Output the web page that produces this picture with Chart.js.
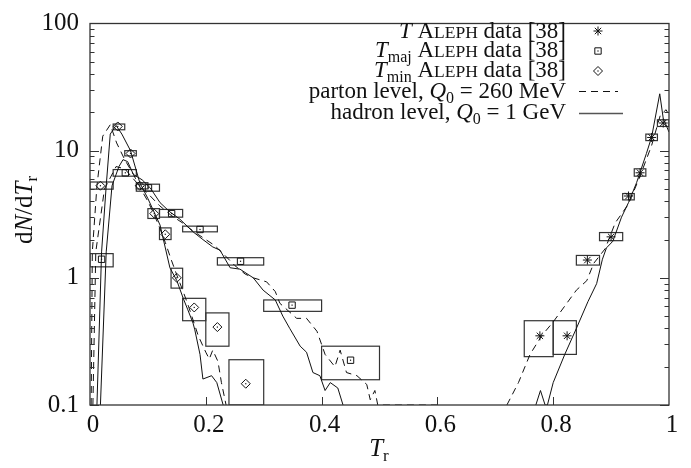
<!DOCTYPE html>
<html>
<head>
<meta charset="utf-8">
<script src="https://cdn.jsdelivr.net/npm/chart.js@4.4.1/dist/chart.umd.min.js"></script>
<style>
  html, body { margin: 0; padding: 0; background: #fff; }
  canvas { display: block; }
</style>
</head>
<body>
<canvas id="chart" width="691" height="468"></canvas>
<script>
// ---- ALEPH data: bin centre, value, error box edges ----
// T (thrust)
const tX   = [0.777, 0.824, 0.859, 0.900, 0.930, 0.950, 0.970, 0.990];
const tY   = [0.35, 0.35, 1.38, 2.1, 4.4, 6.7, 12.7, 16.5];
const tXlo = [0.75, 0.80, 0.84, 0.88, 0.92, 0.94, 0.96, 0.98];
const tXhi = [0.80, 0.84, 0.88, 0.92, 0.94, 0.96, 0.98, 1.00];
const tYlo = [0.24, 0.25, 1.26, 1.96, 4.1, 6.3, 12.0, 15.5];
const tYhi = [0.46, 0.46, 1.50, 2.27, 4.6, 7.2, 13.5, 17.5];

// T_maj
const mjX   = [0.020, 0.061, 0.101, 0.141, 0.190, 0.260, 0.349, 0.450];
const mjY   = [1.4, 6.7, 5.1, 3.2, 2.4, 1.35, 0.61, 0.225];
const mjXlo = [0.00, 0.04, 0.08, 0.12, 0.16, 0.22, 0.30, 0.40];
const mjXhi = [0.04, 0.08, 0.12, 0.16, 0.22, 0.30, 0.40, 0.50];
const mjYlo = [1.22, 6.3, 4.8, 3.0, 2.3, 1.26, 0.545, 0.158];
const mjYhi = [1.55, 7.1, 5.45, 3.45, 2.55, 1.44, 0.67, 0.29];

// T_min
const mnX   = [0.018, 0.048, 0.070, 0.086, 0.111, 0.130, 0.150, 0.180, 0.220, 0.269];
const mnY   = [5.3, 15.5, 9.5, 5.3, 3.2, 2.2, 1.0, 0.585, 0.41, 0.147];
const mnXlo = [0.00, 0.04, 0.06, 0.08, 0.10, 0.12, 0.14, 0.16, 0.20, 0.24];
const mnXhi = [0.04, 0.06, 0.08, 0.10, 0.12, 0.14, 0.16, 0.20, 0.24, 0.30];
const mnYlo = [4.98, 14.6, 9.1, 5.0, 2.93, 2.0, 0.83, 0.46, 0.29, 0.1];
const mnYhi = [5.67, 16.2, 10.0, 5.6, 3.5, 2.47, 1.19, 0.69, 0.53, 0.227];

// ---- model curves (values under 0.1 sit on the axis) ----
const hadMinX = [0.012, 0.02, 0.028, 0.035, 0.045, 0.055, 0.07, 0.086, 0.1, 0.121, 0.138, 0.15, 0.161, 0.169, 0.178, 0.181, 0.19, 0.195, 0.21, 0.219, 0.23];
const hadMinY = [0.1, 1.6, 5.3, 13.5, 15.8, 13.5, 10, 5.6, 4.2, 2.6, 1.2, 0.95, 0.69, 0.56, 0.44, 0.39, 0.25, 0.16, 0.17, 0.15, 0.1];
const parMinX = [0.002, 0.004, 0.012, 0.022, 0.035, 0.046, 0.06, 0.075, 0.09, 0.1, 0.11, 0.12, 0.13, 0.14, 0.15, 0.16, 0.17, 0.187, 0.2, 0.206, 0.212, 0.221, 0.227, 0.235];
const parMinY = [0.1, 1.6, 5.3, 13, 16, 11.5, 8.5, 6.5, 4.8, 4.0, 3.2, 2.5, 1.9, 1.4, 1.05, 0.8, 0.6, 0.35, 0.26, 0.23, 0.27, 0.22, 0.15, 0.1];

const hadMajX = [0.018, 0.028, 0.038, 0.05, 0.057, 0.065, 0.075, 0.09, 0.104, 0.121, 0.138, 0.155, 0.178, 0.195, 0.212, 0.2245, 0.242, 0.259, 0.282, 0.299, 0.32, 0.333, 0.345, 0.363, 0.374, 0.385, 0.397, 0.406, 0.415, 0.428, 0.437];
const hadMajY = [0.1, 1.6, 5.3, 7.5, 8.5, 8.2, 6.5, 5.9, 5.1, 3.9, 3.3, 2.9, 2.3, 2.0, 1.75, 1.65, 1.2, 1.17, 1.0, 0.8, 0.67, 0.5, 0.4, 0.29, 0.26, 0.18, 0.17, 0.13, 0.15, 0.136, 0.1];
const parMajX = [0.005, 0.01, 0.025, 0.045, 0.06, 0.075, 0.09, 0.1, 0.12, 0.14, 0.16, 0.18, 0.2, 0.215, 0.23, 0.25, 0.268, 0.282, 0.305, 0.32, 0.328, 0.357, 0.374, 0.392, 0.406, 0.423, 0.432, 0.443, 0.461, 0.478, 0.484, 0.492, 0.497, 0.6];
const parMajY = [0.1, 1.6, 5.0, 7.5, 7.2, 6.0, 5.0, 4.6, 3.7, 3.1, 2.7, 2.3, 2.0, 1.8, 1.55, 1.25, 1.07, 1.0, 0.93, 0.78, 0.63, 0.48, 0.48, 0.38, 0.25, 0.2, 0.27, 0.18, 0.17, 0.145, 0.11, 0.13, 0.1, 0.1];

const hadTX = [0.77, 0.778, 0.786, 0.79, 0.80, 0.82, 0.84, 0.86, 0.875, 0.885, 0.892, 0.903, 0.918, 0.93, 0.944, 0.961, 0.97, 0.984, 0.99, 1.0];
const hadTY = [0.1, 0.13, 0.1, 0.1, 0.15, 0.25, 0.4, 0.65, 0.9, 1.4, 1.72, 1.94, 3.0, 3.9, 5.6, 9.5, 12.8, 28, 18, 14];
const parTX = [0.72, 0.74, 0.76, 0.78, 0.80, 0.82, 0.84, 0.858, 0.87, 0.89, 0.907, 0.93, 0.95, 0.97, 0.985, 0.995, 1.0];
const parTY = [0.1, 0.15, 0.25, 0.35, 0.45, 0.6, 0.8, 0.95, 1.3, 1.7, 2.7, 3.8, 6.3, 11, 19, 21, 19];

const xTicks = [0, 0.2, 0.4, 0.6, 0.8, 1];
const yTickLabels = [0.1, 1, 10, 100];

const serif = '"Liberation Serif", "Times New Roman", serif';
const ink = '#111';

function pts(xs, ys) {
  return xs.map((x, i) => ({ x: x, y: ys[i] }));
}

function lineSet(xs, ys, dashed) {
  return {
    data: pts(xs, ys), showLine: true, pointRadius: 0, tension: 0,
    borderColor: ink, borderWidth: 1, borderDash: dashed ? [7, 5] : []
  };
}

// draw text made of runs (font changes, subscripts) right-aligned
function drawRuns(ctx, runs, right, base) {
  let w = 0;
  runs.forEach(r => { ctx.font = r.f; w += ctx.measureText(r.t).width; });
  let x = right - w;
  runs.forEach(r => {
    ctx.font = r.f;
    ctx.fillText(r.t, x, base + (r.dy || 0));
    x += ctx.measureText(r.t).width;
  });
  return w;
}

function marker(ctx, style, x, y) {
  const r = 4.5;
  ctx.beginPath();
  if (style === 'star') {
    for (let a = 0; a < 4; a++) {
      const t = a * Math.PI / 4;
      ctx.moveTo(x - r * Math.cos(t), y - r * Math.sin(t));
      ctx.lineTo(x + r * Math.cos(t), y + r * Math.sin(t));
    }
  } else if (style === 'rect') {
    const s = r * Math.SQRT1_2;
    ctx.rect(x - s, y - s, 2 * s, 2 * s);
  } else {
    ctx.moveTo(x, y - r); ctx.lineTo(x + r, y); ctx.lineTo(x, y + r); ctx.lineTo(x - r, y); ctx.closePath();
  }
  ctx.stroke();
  if (style !== 'star') ctx.fillRect(x - 0.6, y - 0.6, 1.2, 1.2);
}

const decor = {
  id: 'decor',
  beforeDatasetsDraw(chart) {
    const { ctx, chartArea: a, scales: { x, y } } = chart;
    ctx.save();
    ctx.beginPath();
    ctx.rect(a.left, a.top, a.right - a.left, a.bottom - a.top);
    ctx.clip();
    ctx.strokeStyle = '#333';
    ctx.lineWidth = 1.2;
    const groups = [
      [tXlo, tXhi, tYlo, tYhi],
      [mjXlo, mjXhi, mjYlo, mjYhi],
      [mnXlo, mnXhi, mnYlo, mnYhi]
    ];
    groups.forEach(g => {
      g[0].forEach((lo, i) => {
        const x0 = x.getPixelForValue(lo), x1 = x.getPixelForValue(g[1][i]);
        const y0 = y.getPixelForValue(g[3][i]), y1 = y.getPixelForValue(g[2][i]);
        ctx.strokeRect(x0, y0, x1 - x0, y1 - y0);
      });
    });
    ctx.restore();
  },
  afterDatasetsDraw(chart) {
    const { ctx, chartArea: a, scales: { x, y } } = chart;
    ctx.save();
    ctx.strokeStyle = ink;
    ctx.fillStyle = ink;
    ctx.lineWidth = 1;
    // centre dots of square and diamond markers
    [[mjX, mjY], [mnX, mnY]].forEach(s => s[0].forEach((v, i) => {
      ctx.fillRect(x.getPixelForValue(v) - 0.6, y.getPixelForValue(s[1][i]) - 0.6, 1.2, 1.2);
    }));

    // frame
    ctx.strokeStyle = '#333';
    ctx.lineWidth = 1.3;
    ctx.strokeRect(a.left, a.top, a.right - a.left, a.bottom - a.top);

    // inward ticks
    ctx.lineWidth = 1;
    ctx.beginPath();
    [0.1, 1, 10].forEach(d => {
      for (let k = 1; k <= 9; k++) {
        const py = Math.round(y.getPixelForValue(k * d)) + 0.5;
        const len = k === 1 ? 9 : 4.5;
        ctx.moveTo(a.left, py); ctx.lineTo(a.left + len, py);
        ctx.moveTo(a.right, py); ctx.lineTo(a.right - len, py);
      }
    });
    xTicks.slice(1, -1).forEach(v => {
      const px = Math.round(x.getPixelForValue(v)) + 0.5;
      ctx.moveTo(px, a.bottom); ctx.lineTo(px, a.bottom - 8);
    });
    ctx.stroke();

    // legend
    const R = '23px ' + serif, I = 'italic 23px ' + serif;
    const SC = '17.5px ' + serif, SUB = '16px ' + serif;
    const aleph = [{ t: ' A', f: R }, { t: 'LEPH', f: SC }, { t: ' data [38]', f: R }];
    ctx.fillStyle = ink;
    ctx.textBaseline = 'alphabetic';
    drawRuns(ctx, [{ t: 'T', f: I }].concat(aleph), 566, 38);
    drawRuns(ctx, [{ t: 'T', f: I }, { t: 'maj', f: SUB, dy: 5 }].concat(aleph), 566, 57);
    drawRuns(ctx, [{ t: 'T', f: I }, { t: 'min', f: SUB, dy: 5 }].concat(aleph), 566, 77);
    drawRuns(ctx, [{ t: 'parton level, ', f: R }, { t: 'Q', f: I }, { t: '0', f: SUB, dy: 5 }, { t: ' = 260 MeV', f: R }], 566, 98);
    drawRuns(ctx, [{ t: 'hadron level, ', f: R }, { t: 'Q', f: I }, { t: '0', f: SUB, dy: 5 }, { t: ' = 1 GeV', f: R }], 566, 119);
    ctx.strokeStyle = ink;
    marker(ctx, 'star', 598, 31);
    marker(ctx, 'rect', 598, 51);
    marker(ctx, 'diamond', 598, 71);
    ctx.lineWidth = 1;
    ctx.beginPath();
    ctx.setLineDash([7, 5]);
    ctx.moveTo(579, 91.5); ctx.lineTo(618, 91.5);
    ctx.stroke();
    ctx.setLineDash([]);
    ctx.strokeStyle = '#555';
    ctx.lineWidth = 1.3;
    ctx.beginPath();
    ctx.moveTo(579, 113.5); ctx.lineTo(623, 113.5);
    ctx.stroke();

    // axis titles
    ctx.fillStyle = ink;
    const T = 'italic 25px ' + serif, Rm = '25px ' + serif, sub = '17px ' + serif;
    ctx.save();
    ctx.translate(32, 210);
    ctx.rotate(-Math.PI / 2);
    const yRuns = [{ t: 'd', f: Rm }, { t: 'N', f: T }, { t: '/d', f: Rm }, { t: 'T', f: T }, { t: 'r', f: sub, dy: 5 }];
    let w = 0;
    yRuns.forEach(r => { ctx.font = r.f; w += ctx.measureText(r.t).width; });
    drawRuns(ctx, yRuns, w / 2, 0);
    ctx.restore();
    const xRuns = [{ t: 'T', f: T }, { t: 'r', f: sub, dy: 5 }];
    let wx = 0;
    xRuns.forEach(r => { ctx.font = r.f; wx += ctx.measureText(r.t).width; });
    drawRuns(ctx, xRuns, 379 + wx / 2, 456);
    ctx.restore();
  }
};

new Chart(document.getElementById('chart'), {
  type: 'scatter',
  data: {
    datasets: [
      { label: 'T ALEPH data [38]', data: pts(tX, tY), pointStyle: 'star', pointRadius: 4.5,
        borderColor: ink, backgroundColor: 'transparent', borderWidth: 1 },
      { label: 'Tmaj ALEPH data [38]', data: pts(mjX, mjY), pointStyle: 'rect', pointRadius: 4.5,
        borderColor: ink, backgroundColor: 'transparent', borderWidth: 1 },
      { label: 'Tmin ALEPH data [38]', data: pts(mnX, mnY), pointStyle: 'rectRot', pointRadius: 4.5,
        borderColor: ink, backgroundColor: 'transparent', borderWidth: 1 },
      lineSet(parMinX, parMinY, true),
      lineSet(hadMinX, hadMinY, false),
      lineSet(parMajX, parMajY, true),
      lineSet(hadMajX, hadMajY, false),
      lineSet(parTX, parTY, true),
      lineSet(hadTX, hadTY, false)
    ]
  },
  options: {
    responsive: false,
    animation: false,
    devicePixelRatio: 1,
    layout: { padding: { top: 14, right: 22, left: 0, bottom: 0 } },
    plugins: { legend: { display: false }, tooltip: { enabled: false } },
    scales: {
      x: {
        type: 'linear', min: 0, max: 1,
        afterFit: s => { s.height = 63; },
        afterBuildTicks: s => { s.ticks = xTicks.map(v => ({ value: v })); },
        grid: { display: false, drawTicks: false },
        border: { display: false },
        ticks: {
          font: { family: serif, size: 25, lineHeight: 1 }, color: ink,
          padding: 8, labelOffset: 3, maxRotation: 0, autoSkip: false,
          callback: v => String(v)
        }
      },
      y: {
        type: 'logarithmic', min: 0.1, max: 100,
        afterFit: s => { s.width = 90; },
        afterBuildTicks: s => { s.ticks = yTickLabels.map(v => ({ value: v })); },
        grid: { display: false, drawTicks: false },
        border: { display: false },
        ticks: {
          font: { family: serif, size: 25, lineHeight: 1 }, color: ink,
          padding: 11, autoSkip: false,
          callback: v => String(v)
        }
      }
    }
  },
  plugins: [decor]
});
</script>
</body>
</html>
